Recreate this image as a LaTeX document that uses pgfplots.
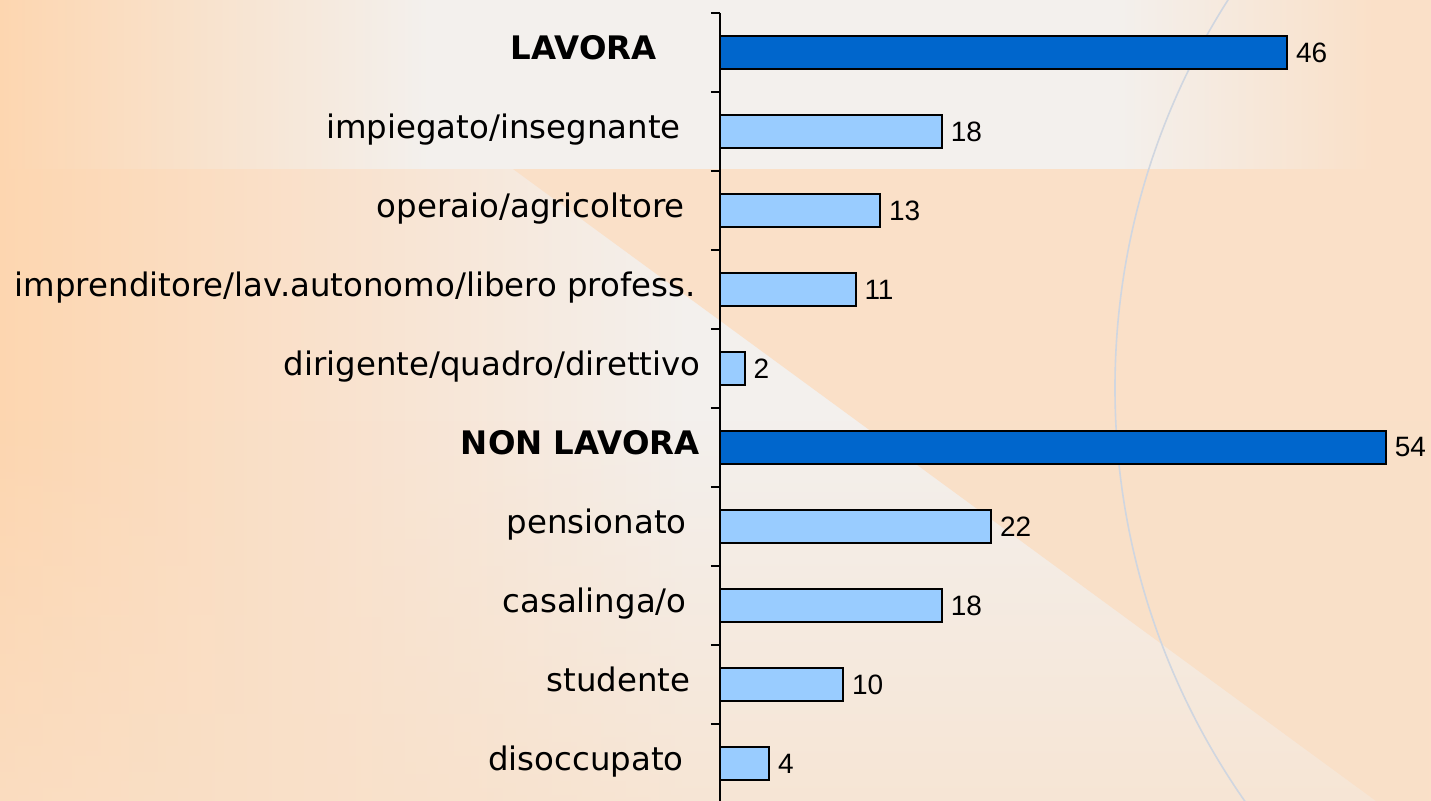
\documentclass[border=0pt]{standalone}
\usepackage{fontspec}
\setmainfont{DejaVu Sans}
\newfontfamily\valfont{Liberation Sans}
\usepackage{pgfplots}
\pgfplotsset{compat=1.18}
\usetikzlibrary{fadings}

\definecolor{pchL}{RGB}{253,214,176}
\definecolor{pchM}{RGB}{249,226,206}
\definecolor{pchR}{RGB}{250,224,200}
\definecolor{pchB}{RGB}{249,224,200}
\definecolor{lightg}{RGB}{243,240,237}
\definecolor{darkbar}{RGB}{0,102,204}
\definecolor{lightbar}{RGB}{153,204,255}
\definecolor{arccol}{RGB}{208,214,224}

% background shadings (path box = 25bp..75bp)
\pgfdeclarehorizontalshading{basebg}{100bp}{color(0bp)=(pchL); color(25bp)=(pchL); color(37bp)=(pchM); color(49bp)=(lightg); color(75bp)=(lightg); color(100bp)=(lightg)}
\pgfdeclarehorizontalshading{topband}{100bp}{color(0bp)=(pchL); color(25bp)=(pchL); color(40bp)=(lightg); color(64bp)=(lightg); color(73bp)=(pchR); color(100bp)=(pchR)}
\tikzfading[name=fadeup, top color=transparent!100, bottom color=transparent!35]

\newcommand{\gap}[1]{\rule{#1}{0pt}}

\begin{document}
\begin{tikzpicture}
% background, in pixel units from the top left corner
\begin{scope}[shift={(-360pt,401.5pt)}, x=0.5pt, y=-0.5pt]
  \clip (0,0) rectangle (1431,801);
  \shade[shading=basebg] (0,0) rectangle (1431,801);
  \fill[pchR] (513,169) -- (1431,169) -- (1431,801) -- (1376,801) -- cycle;
  \shade[shading=topband] (0,0) rectangle (1431,169);
  \fill[pchB, path fading=fadeup] (0,420) rectangle (1431,801);
  \draw[arccol, line width=0.8pt] (1837,388) circle [radius=722];
\end{scope}

\begin{axis}[
  at={(0,0)}, anchor=south west,
  scale only axis, width=351.5pt, height=395pt,
  xmin=0, xmax=57, ymin=-0.5, ymax=9.5, y dir=reverse,
  axis x line=none, axis y line*=left,
  axis line style={black, line width=0.9pt},
  ytick={0,...,9},
  yticklabels={{\textbf{LAVORA}\gap{22pt}}, {impiegato/insegnante\gap{10pt}}, {operaio/agricoltore\gap{8pt}}, {imprenditore/lav.autonomo/libero profess.\gap{2.5pt}}, {dirigente/quadro/direttivo}, {\textbf{NON LAVORA}\gap{0.5pt}}, {pensionato\gap{7pt}}, {casalinga/o\gap{7pt}}, {studente\gap{5pt}}, {disoccupato\gap{8.5pt}}},
  minor ytick={-0.5,0.5,...,9.5},
  tick align=outside, major tick length=0pt, minor tick length=4.5pt,
  minor tick style={black, line width=0.9pt},
  yticklabel style={font=\fontsize{16.2}{19}\selectfont, inner sep=0pt, text height=12.2pt, text depth=4.8pt, anchor=east, xshift=-9.5pt},
  xbar, bar width=16.5pt, clip=false,
  point meta=x,
  nodes near coords={\valfont\fontsize{14}{16}\selectfont\pgfmathprintnumber{\pgfplotspointmeta}},
  every node near coord/.append style={anchor=west, inner sep=0pt, xshift=4pt, text=black},
  /pgf/number format/assume math mode=true,
]
% main groups
\addplot[xbar, bar shift=0pt, fill=darkbar, draw=black, line width=0.85pt] coordinates {(46,0) (54,5)};
% sub categories
\addplot[xbar, bar shift=0pt, fill=lightbar, draw=black, line width=0.85pt] coordinates {(18,1) (13,2) (11,3) (2,4) (22,6) (18,7) (10,8) (4,9)};
\end{axis}

\pgfresetboundingbox
\path[use as bounding box] (-360pt,1pt) rectangle (355.5pt,401.5pt);
\end{tikzpicture}
\end{document}
